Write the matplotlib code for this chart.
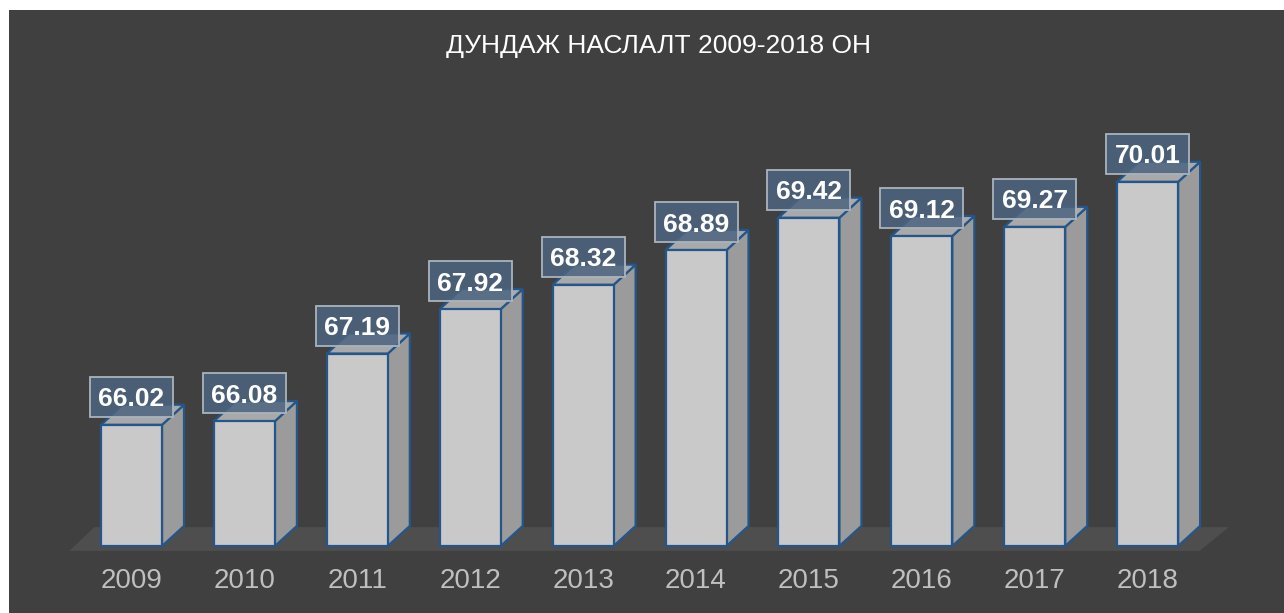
import matplotlib.pyplot as plt
from matplotlib.patches import Polygon, Rectangle

# Dundazh naslalt (average life expectancy), 2009-2018
years = ["2009", "2010", "2011", "2012", "2013", "2014", "2015", "2016", "2017", "2018"]
values = [66.02, 66.08, 67.19, 67.92, 68.32, 68.89, 69.42, 69.12, 69.27, 70.01]
title = "ДУНДАЖ НАСЛАЛТ 2009-2018 ОН"

BG = "#404040"
FRONT = "#c9c9c9"
SIDE = "#9b9b9b"
TOP = "#a9a9a9"
EDGE = "#24568a"

base = 64.03          # value at the floor line
half_w = 0.27         # half width of the front face
dx, dy = 0.195, 0.33  # depth of the 3D offset
box_w, box_h = 0.735, 0.657

plt.rcParams['font.family'] = ['Liberation Sans', 'DejaVu Sans']

fig = plt.figure(figsize=(12.84, 6.13), dpi=100)
fig.patch.set_facecolor("white")
ax = fig.add_axes([0, 0, 1, 1])
ax.set_xlim(-1.165, 10.208)
ax.set_ylim(62.93, 72.996)
ax.axis("off")

# dark background, white strip at top and left
ax.add_patch(Rectangle((9 / 1284, 0), 1, 1 - 10 / 613, transform=ax.transAxes,
                       facecolor=BG, edgecolor="none", zorder=0))

# floor
n = len(values)
f0, f1 = base - 0.08, base + 0.31
floor = Polygon([(-0.55, f0), (n - 1 + 0.46, f0), (n - 1 + 0.72, f1), (-0.33, f1)],
                closed=True, facecolor="#4e4e4e", edgecolor="none", zorder=1)
ax.add_patch(floor)

for i, v in enumerate(values):
    l, r = i - half_w, i + half_w
    side = Polygon([(r, base), (r + dx, base + dy), (r + dx, v + dy), (r, v)],
                   closed=True, facecolor=SIDE, edgecolor=EDGE, linewidth=1.6, zorder=3)
    top = Polygon([(l, v), (r, v), (r + dx, v + dy), (l + dx, v + dy)],
                  closed=True, facecolor=TOP, edgecolor=EDGE, linewidth=1.6, zorder=3)
    front = Rectangle((l, base), 2 * half_w, v - base, facecolor=FRONT,
                      edgecolor=EDGE, linewidth=1.6, zorder=4)
    ax.add_patch(side)
    ax.add_patch(top)
    ax.add_patch(front)

    # value label in a translucent box
    cy = v + 0.46
    ax.add_patch(Rectangle((i - box_w / 2, cy - box_h / 2), box_w, box_h,
                           facecolor="#4c6580", alpha=0.85, edgecolor="none", zorder=5))
    ax.add_patch(Rectangle((i - box_w / 2, cy - box_h / 2), box_w, box_h,
                           facecolor="none", edgecolor="#aab4be", linewidth=1.3, zorder=5))
    ax.text(i, cy, f"{v:.2f}", ha="center", va="center_baseline", fontsize=19,
            fontweight="bold", color="white", zorder=6)

    ax.text(i, base - 0.57, years[i], ha="center", va="center", fontsize=20,
            color="#bfbfbf", zorder=5)

ax.text(659 / 1284, 1 - 46 / 613, title, transform=ax.transAxes, ha="center",
        va="center", fontsize=19, color="white")

fig.savefig("out.png", dpi=100, facecolor=fig.get_facecolor())
